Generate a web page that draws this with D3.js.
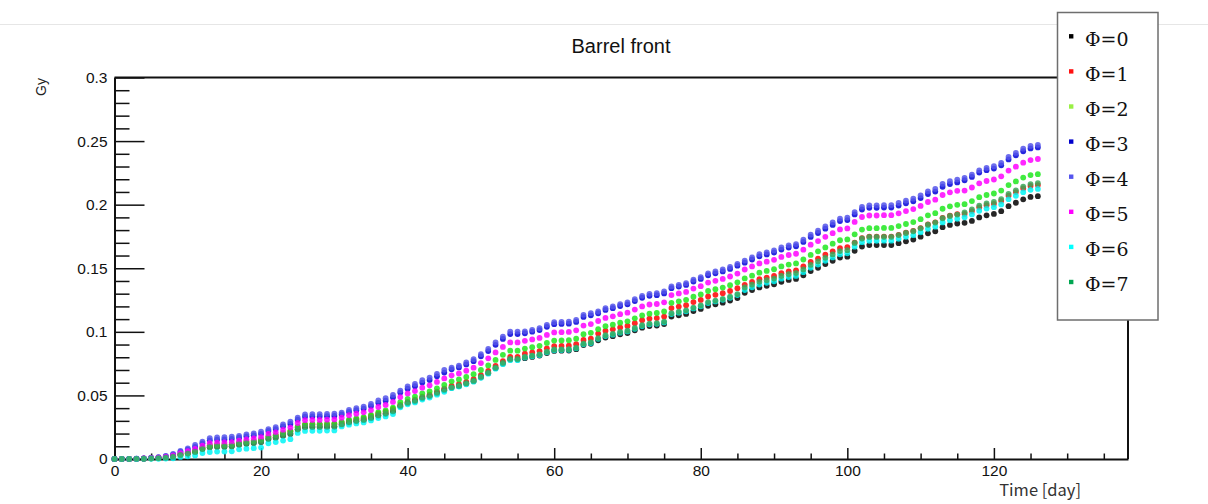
<!DOCTYPE html>
<html><head><meta charset="utf-8">
<script src="https://cdn.jsdelivr.net/npm/d3@7"></script>
<style>
html,body{margin:0;padding:0;background:#fff;}
svg{display:block;}
</style></head>
<body>
<svg id="chart" width="1208" height="504"></svg>
<script>
// ---- data (Gy per day, days 0..126) ----
const seriesNames = ["Φ=0","Φ=1","Φ=2","Φ=3","Φ=4","Φ=5","Φ=6","Φ=7"];
const seriesColors = ["#000000","#ff0000","#1ee81e","#0000d8","#5555ea","#ff00ff","#00f4f4","#3aa85a"];
const legendColors = ["#000000","#ff1010","#99f044","#0000cc","#5555ee","#ff00ff","#00ffff","#00a651"];
const xTickValues = [0,20,40,60,80,100,120];
const xTickLabels = ["0","20","40","60","80","100","120"];
const yTickValues = [0,0.05,0.1,0.15,0.2,0.25,0.3];
const yTickLabels = ["0","0.05","0.1","0.15","0.2","0.25","0.3"];

const phi0 = [0,0,0,0.0001,0.0002,0.0005,0.0007,0.0011,0.0018,
0.0032,0.0043,0.0056,
0.0078,0.0093,0.0097,0.0097,0.01,
0.0112,0.012,0.0125,0.0133,
0.0157,0.0168,0.0183,0.0197,
0.0231,0.0249,0.0251,0.0251,0.0252,0.0253,
0.027,0.0286,0.0296,0.0305,0.032,0.034,0.0354,0.0373,
0.0414,0.0439,0.0454,0.0477,0.0493,0.0516,0.054,
0.0561,0.0573,0.0592,0.0612,0.0643,0.0675,0.0714,0.0751,0.0782,0.0782,
0.0793,0.0803,0.0813,0.0833,0.085,0.0852,0.0853,0.0864,0.0896,0.0906,
0.0934,0.0955,0.0966,0.0981,0.0991,0.1012,0.1033,0.1046,0.105,0.1061,
0.112,0.113,0.1141,0.1163,0.118,0.1205,0.1217,0.1229,0.1246,0.1266,
0.1307,0.1328,0.1349,0.1362,0.1374,0.1394,0.1408,0.1416,0.1445,0.1478,0.1504,0.1533,0.1559,0.1584,0.1591,
0.1637,0.1671,0.1682,0.1682,0.1683,0.1683,0.1697,0.1712,0.1726,0.1748,0.1775,0.1791,0.1823,0.1841,0.1852,
0.1857,0.1872,0.19,0.1916,0.1927,0.1949,0.1988,0.2015,0.2042,0.2061,0.2067];

const phi1 = [0,0,0,0.0001,0.0003,0.0006,0.0008,0.0013,0.0022,
0.0038,0.005,0.0066,
0.0089,0.0106,0.0111,0.0111,0.0114,
0.0127,0.0136,0.0141,0.0151,
0.0173,0.0185,0.0202,0.0218,
0.025,0.027,0.0272,0.0272,0.0273,0.0275,
0.0285,0.0301,0.0312,0.0321,0.0338,0.0359,0.0373,0.0393,
0.0425,0.045,0.0466,0.049,0.0506,0.0529,0.0554,
0.0575,0.0588,0.0607,0.0628,0.0659,0.0693,0.0733,0.077,0.0802,0.0802,
0.0828,0.0838,0.0849,0.087,0.0888,0.0889,0.0891,0.0903,0.0936,0.0946,
0.0986,0.1008,0.102,0.1035,0.1046,0.1068,0.1091,0.1104,0.1108,0.112,
0.1187,0.1199,0.121,0.1234,0.1251,0.1278,0.1291,0.1304,0.1321,0.1343,
0.137,0.1392,0.1414,0.1427,0.144,0.1461,0.1475,0.1484,0.1514,0.1549,0.1576,0.1606,0.1633,0.1659,0.1666,
0.1701,0.1736,0.1748,0.1748,0.1749,0.1749,0.1763,0.1779,0.1793,0.1816,0.1844,0.1861,0.1895,0.1913,0.1925,
0.1927,0.195,0.1979,0.1996,0.2007,0.203,0.2071,0.2099,0.2128,0.2147,0.2154];

const phi2 = [0,0,0,0.0001,0.0003,0.0006,0.0008,0.0013,0.0022,
0.0038,0.005,0.0066,
0.0089,0.0106,0.0111,0.0111,0.0114,
0.0127,0.0136,0.0141,0.0151,
0.0176,0.0188,0.0205,0.0221,
0.0254,0.0273,0.0275,0.0275,0.0277,0.0278,
0.0292,0.0309,0.032,0.033,0.0346,0.0368,0.0382,0.0403,
0.0447,0.0473,0.049,0.0515,0.0531,0.0556,0.0582,
0.0611,0.0625,0.0645,0.0667,0.07,0.0736,0.0779,0.0819,0.0852,0.0852,
0.0868,0.0879,0.089,0.0913,0.0931,0.0932,0.0934,0.0946,0.0981,0.0992,
0.1021,0.1044,0.1056,0.1072,0.1083,0.1106,0.1129,0.1143,0.1148,0.116,
0.1228,0.124,0.1252,0.1276,0.1294,0.1321,0.1335,0.1348,0.1367,0.1389,
0.142,0.1442,0.1465,0.1479,0.1492,0.1514,0.1529,0.1538,0.1569,0.1605,0.1633,0.1664,0.1693,0.172,0.1727,
0.1767,0.1804,0.1815,0.1815,0.1817,0.1817,0.1832,0.1848,0.1863,0.1886,0.1916,0.1933,0.1968,0.1987,0.1999,
0.2004,0.2028,0.2059,0.2076,0.2088,0.2111,0.2154,0.2183,0.2213,0.2233,0.224];

const phi3 = [0,0,0,0.0002,0.0004,0.0009,0.0013,0.002,0.0034,
0.0055,0.0073,0.0096,
0.0123,0.0147,0.0153,0.0154,0.0158,
0.0167,0.0178,0.0186,0.0198,
0.022,0.0235,0.0257,0.0276,
0.0309,0.0333,0.0335,0.0335,0.0337,0.0339,
0.035,0.0371,0.0384,0.0396,0.0416,0.0442,0.0459,0.0484,
0.0522,0.0553,0.0572,0.0601,0.0621,0.065,0.068,
0.0705,0.072,0.0744,0.0769,0.0808,0.0849,0.0898,0.0944,0.0982,0.0982,
0.0989,0.1001,0.1014,0.1039,0.106,0.1062,0.1064,0.1078,0.1117,0.113,
0.1146,0.1172,0.1186,0.1203,0.1216,0.1242,0.1268,0.1283,0.1288,0.1302,
0.1343,0.1356,0.1369,0.1396,0.1416,0.1445,0.146,0.1475,0.1495,0.152,
0.1544,0.1569,0.1594,0.1609,0.1624,0.1647,0.1663,0.1673,0.1707,0.1746,0.1777,0.1811,0.1841,0.1871,0.1879,
0.1923,0.1962,0.1975,0.1975,0.1977,0.1977,0.1993,0.2011,0.2027,0.2052,0.2084,0.2103,0.2141,0.2162,0.2175,
0.2192,0.2218,0.2252,0.2271,0.2284,0.2309,0.2356,0.2388,0.242,0.2442,0.245];

const phi4 = [0,0,0,0.0002,0.0005,0.001,0.0015,0.0024,0.004,
0.0063,0.0084,0.011,
0.0137,0.0163,0.017,0.0171,0.0175,
0.0181,0.0194,0.0202,0.0215,
0.0234,0.025,0.0273,0.0294,
0.0325,0.035,0.0353,0.0353,0.0355,0.0357,
0.0365,0.0386,0.04,0.0412,0.0433,0.046,0.0478,0.0504,
0.0538,0.057,0.059,0.062,0.064,0.067,0.0701,
0.0719,0.0735,0.0759,0.0785,0.0824,0.0866,0.0916,0.0963,0.1002,0.1002,
0.1004,0.1016,0.1029,0.1055,0.1076,0.1078,0.108,0.1094,0.1134,0.1147,
0.116,0.1186,0.12,0.1218,0.1231,0.1257,0.1283,0.1299,0.1304,0.1318,
0.1357,0.137,0.1383,0.141,0.143,0.146,0.1475,0.149,0.151,0.1535,
0.156,0.1585,0.161,0.1625,0.164,0.1664,0.168,0.169,0.1724,0.1764,0.1795,0.1829,0.186,0.189,0.1898,
0.1942,0.1982,0.1995,0.1995,0.1997,0.1997,0.2013,0.2031,0.2047,0.2073,0.2105,0.2124,0.2163,0.2184,0.2197,
0.221,0.2236,0.227,0.2289,0.2302,0.2328,0.2375,0.2407,0.244,0.2462,0.247];

const phi5 = [0,0,0,0.0001,0.0004,0.0007,0.0011,0.0017,0.0028,
0.0046,0.0061,0.008,
0.0104,0.0124,0.0129,0.013,0.0133,
0.0145,0.0155,0.0162,0.0172,
0.0197,0.021,0.0229,0.0247,
0.0283,0.0305,0.0307,0.0307,0.0309,0.0311,
0.0325,0.0344,0.0356,0.0367,0.0385,0.0409,0.0425,0.0449,
0.0487,0.0516,0.0534,0.0561,0.0579,0.0606,0.0634,
0.0658,0.0673,0.0694,0.0718,0.0754,0.0792,0.0838,0.0881,0.0917,0.0917,
0.0929,0.094,0.0952,0.0976,0.0995,0.0997,0.0999,0.1012,0.1049,0.1061,
0.1085,0.1109,0.1122,0.1139,0.1151,0.1175,0.12,0.1215,0.1219,0.1232,
0.1289,0.1302,0.1314,0.134,0.1359,0.1387,0.1401,0.1416,0.1435,0.1458,
0.149,0.1514,0.1538,0.1552,0.1566,0.1589,0.1604,0.1614,0.1646,0.1685,0.1714,0.1747,0.1776,0.1805,0.1813,
0.1864,0.1903,0.1915,0.1915,0.1917,0.1917,0.1932,0.195,0.1965,0.199,0.2021,0.2039,0.2076,0.2097,0.2109,
0.2111,0.2135,0.2168,0.2186,0.2198,0.2223,0.2268,0.2299,0.233,0.2351,0.2359];

const phi6 = [0,0,0,0,0.0001,0.0002,0.0002,0.0004,0.0006,
0.0016,0.0021,0.0028,
0.0047,0.0055,0.0058,0.0058,0.006,
0.0076,0.0081,0.0085,0.009,
0.0124,0.0133,0.0145,0.0156,
0.0205,0.0221,0.0222,0.0222,0.0224,0.0225,
0.0256,0.027,0.028,0.0288,0.0303,0.0322,0.0335,0.0353,
0.0406,0.043,0.0445,0.0468,0.0483,0.0506,0.0529,
0.0557,0.057,0.0588,0.0608,0.0639,0.0671,0.071,0.0746,0.0777,0.0777,
0.0798,0.0808,0.0818,0.0839,0.0855,0.0857,0.0859,0.087,0.0902,0.0912,
0.0945,0.0967,0.0978,0.0993,0.1003,0.1024,0.1046,0.1059,0.1063,0.1074,
0.114,0.1151,0.1162,0.1184,0.1201,0.1226,0.1239,0.1252,0.1268,0.1289,
0.1329,0.135,0.1372,0.1385,0.1397,0.1418,0.1431,0.144,0.1469,0.1503,0.1529,0.1558,0.1585,0.161,0.1617,
0.167,0.1705,0.1716,0.1716,0.1717,0.1717,0.1731,0.1747,0.176,0.1783,0.181,0.1827,0.186,0.1878,0.1889,
0.1901,0.1923,0.1952,0.1969,0.198,0.2002,0.2043,0.207,0.2098,0.2117,0.2124];

const phi7 = [0,0,0,0.0001,0.0002,0.0005,0.0007,0.0011,0.0018,
0.0032,0.0043,0.0056,
0.0078,0.0093,0.0097,0.0097,0.01,
0.0114,0.0122,0.0127,0.0135,
0.0159,0.017,0.0186,0.02,
0.0234,0.0252,0.0254,0.0254,0.0256,0.0257,
0.0274,0.029,0.03,0.0309,0.0325,0.0345,0.0359,0.0378,
0.042,0.0445,0.046,0.0484,0.0499,0.0523,0.0547,
0.0564,0.0577,0.0596,0.0616,0.0647,0.068,0.0719,0.0756,0.0787,0.0787,
0.0803,0.0813,0.0823,0.0844,0.0861,0.0862,0.0864,0.0875,0.0907,0.0918,
0.0951,0.0973,0.0984,0.0999,0.1009,0.1031,0.1052,0.1065,0.1069,0.1081,
0.1147,0.1158,0.1169,0.1191,0.1208,0.1234,0.1246,0.1259,0.1276,0.1297,
0.1349,0.1371,0.1393,0.1406,0.1419,0.1439,0.1453,0.1462,0.1491,0.1526,0.1553,0.1582,0.1609,0.1635,0.1642,
0.1699,0.1734,0.1746,0.1746,0.1747,0.1747,0.1761,0.1777,0.1791,0.1814,0.1842,0.1859,0.1893,0.1911,0.1922,
0.194,0.1963,0.1993,0.201,0.2021,0.2044,0.2085,0.2113,0.2142,0.2162,0.2169];

const allSeries = [phi0,phi1,phi2,phi3,phi4,phi5,phi6,phi7];

// ---- layout ----
const svg = d3.select("#chart");
const W = 1208, H = 504;
const x = d3.scaleLinear().domain([0, 138.3]).range([114.5, 1128]);
const y = d3.scaleLinear().domain([0, 0.3]).range([459, 77.5]);

svg.append("rect").attr("width",W).attr("height",H).attr("fill","#fff");
// faint canvas line at top
svg.append("line").attr("x1",0).attr("x2",W).attr("y1",24.5).attr("y2",24.5)
  .attr("stroke","#e6e6e6").attr("stroke-width",1);

// title
svg.append("text").attr("x",621).attr("y",53).attr("text-anchor","middle")
  .attr("font-family","'Liberation Sans', Arial, sans-serif").attr("font-size",20)
  .attr("fill","#111").text("Barrel front");

// frame (top + right)
svg.append("line").attr("x1",x(0)).attr("x2",x.range()[1]).attr("y1",y(0.3)).attr("y2",y(0.3))
  .attr("stroke","#111").attr("stroke-width",2);
svg.append("line").attr("x1",x.range()[1]).attr("x2",x.range()[1]).attr("y1",y(0.3)).attr("y2",y(0))
  .attr("stroke","#111").attr("stroke-width",2);

const tickFont = "'Liberation Sans', Arial, sans-serif";

// x axis: major
const gx = svg.append("g").attr("transform",`translate(0,${y(0)})`);
gx.call(d3.axisBottom(x).tickValues(xTickValues).tickFormat((d,i)=>xTickLabels[i])
  .tickSizeInner(-11).tickSizeOuter(0).tickPadding(6));
// x minor
const xMinor = d3.range(5, 136, 5).filter(v => v % 20 !== 0);
svg.append("g").attr("transform",`translate(0,${y(0)})`)
  .call(d3.axisBottom(x).tickValues(xMinor).tickFormat("").tickSizeInner(-5.5).tickSizeOuter(0))
  .call(g => g.select(".domain").remove());

// y axis: major
const gy = svg.append("g").attr("transform",`translate(${x(0)},0)`);
gy.call(d3.axisLeft(y).tickValues(yTickValues).tickFormat((d,i)=>yTickLabels[i])
  .tickSizeInner(-30).tickSizeOuter(0).tickPadding(7));
const yMinor = d3.range(1, 30).map(v => v/100).filter(v => Math.round(v*100) % 5 !== 0);
svg.append("g").attr("transform",`translate(${x(0)},0)`)
  .call(d3.axisLeft(y).tickValues(yMinor).tickFormat("").tickSizeInner(-15).tickSizeOuter(0))
  .call(g => g.select(".domain").remove());

svg.selectAll(".domain").attr("stroke","#111").attr("stroke-width",2);
svg.selectAll(".tick line").attr("stroke","#111").attr("stroke-width",1.5);
svg.selectAll(".tick text").attr("font-family",tickFont).attr("font-size",15.5).attr("fill","#111");

// y label
svg.append("text").attr("transform","translate(46,78) rotate(-90)")
  .attr("text-anchor","end").attr("font-family",tickFont).attr("font-size",14)
  .attr("fill","#222").text("Gy");

// x label
svg.append("text").attr("x",1081).attr("y",496).attr("text-anchor","end")
  .attr("font-family","'Noto Sans CJK KR','Noto Sans',sans-serif").attr("font-size",16.5)
  .attr("fill","#333").text("Time [day]");

// data points
const plot = svg.append("g");
allSeries.forEach((vals, si) => {
  plot.append("g").selectAll("circle").data(vals).join("circle")
    .attr("cx", (d,i) => x(i))
    .attr("cy", d => y(d))
    .attr("r", 2.9)
    .attr("fill", seriesColors[si])
    .attr("fill-opacity", 0.85);
});

// legend
const lg = svg.append("g");
lg.append("rect").attr("x",1057.5).attr("y",12.5).attr("width",100.5).attr("height",307.5)
  .attr("fill","#fff").attr("stroke","#6e6e6e").attr("stroke-width",1.5);
seriesNames.forEach((name, i) => {
  const cy = 36.3 + i*35.1;
  lg.append("rect").attr("x",1069).attr("y",cy-2.2).attr("width",4.4).attr("height",4.4)
    .attr("fill",legendColors[i]);
  lg.append("text").attr("x",1085).attr("y",45.7 + i*35.1)
    .attr("font-family","'DejaVu Serif', serif").attr("font-size",19)
    .attr("fill","#111").text(name);
});
</script>
</body></html>
